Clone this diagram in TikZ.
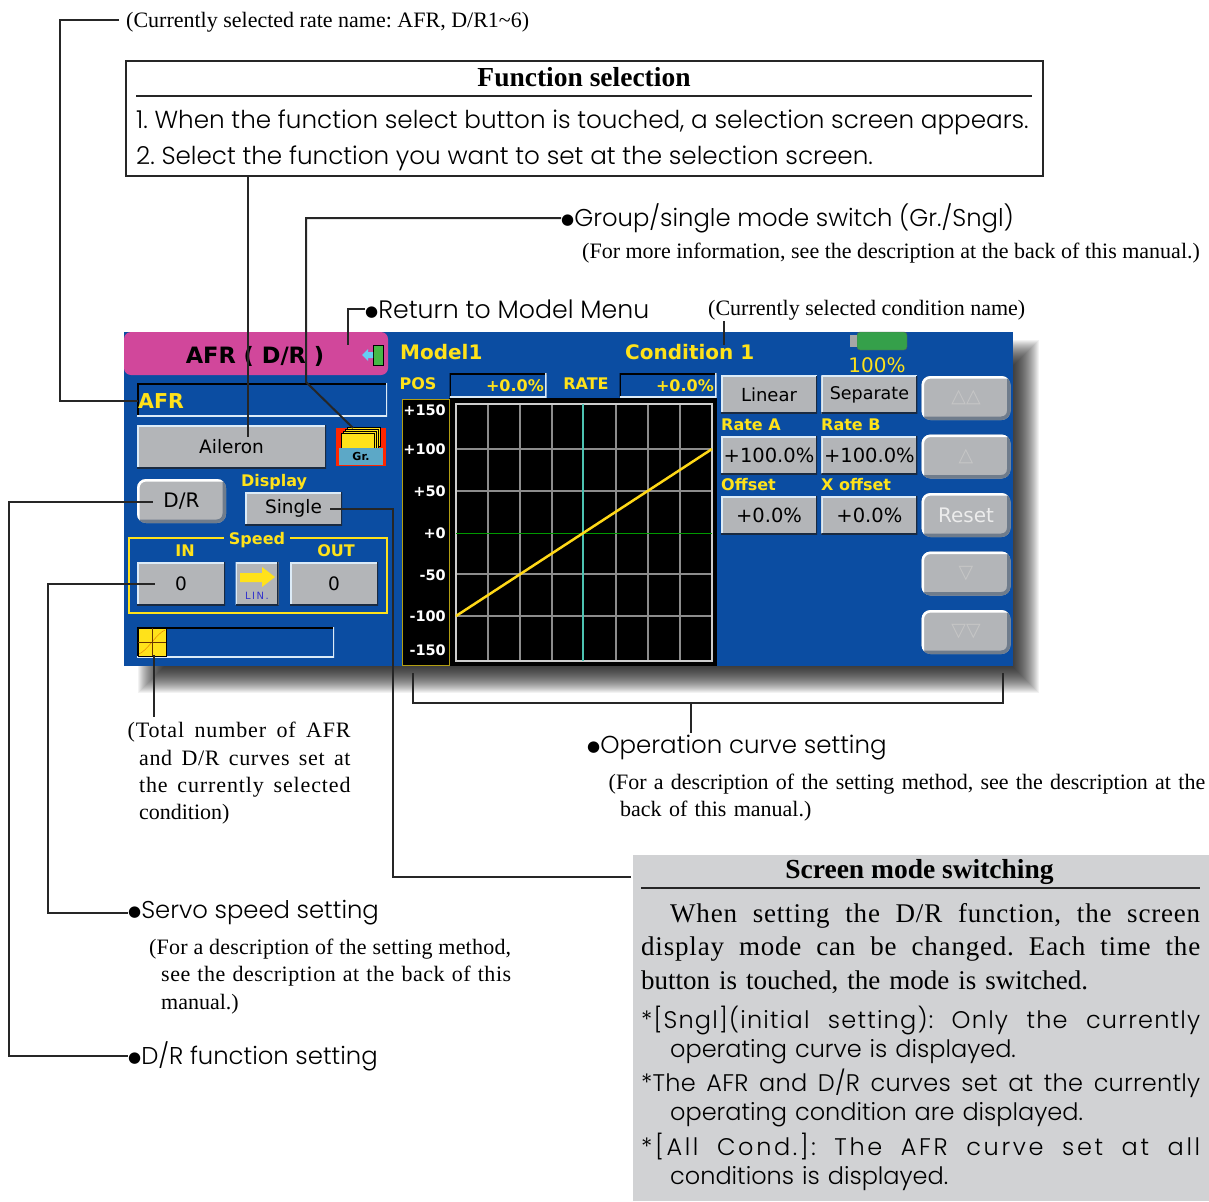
\documentclass[tikz,border=0pt]{standalone}
\usepackage{fontspec}
\setmainfont{Liberation Serif}
\newfontfamily\guidefont{Poppins Light}
\newfontfamily\screenfont{DejaVu Sans}
\usetikzlibrary{positioning}
\frenchspacing
\definecolor{scrblue}{HTML}{0B4DA2}
\definecolor{scryellow}{HTML}{FFE21A}
\definecolor{titlepink}{HTML}{D1479B}
\definecolor{btngray}{HTML}{B3B5B8}
\definecolor{btnlight}{HTML}{DCEBF7}
\definecolor{btndark}{HTML}{1A2A40}
\definecolor{boxgray}{HTML}{D1D2D4}
\definecolor{gridgray}{HTML}{8C8C8C}
\definecolor{sideedge}{HTML}{6F7C8C}
\definecolor{battgreen}{HTML}{35A04A}
\newcommand{\noteface}[1]{\fontsize{#1}{27.3}\selectfont}
\newcommand{\guideface}[1]{\guidefont\fontsize{#1}{36}\selectfont}
\newcommand{\scrface}[1]{\screenfont\fontsize{#1}{#1}\selectfont}
\newcommand{\scrbold}[1]{\screenfont\bfseries\fontsize{#1}{#1}\selectfont}
\newcommand{\fitl}[3][0]{\makebox[#2][s]{\addfontfeature{LetterSpace=#1}\spaceskip=0pt\xspaceskip=0pt #3}}
\newcommand{\dotmark}{\raisebox{2pt}{\screenfont\fontsize{15}{15}\selectfont ●}}
\tikzset{
	leader/.style={draw=black!85, line width=2pt}, % every connector
	note/.style={inner sep=0pt, anchor=west, align=left, font=\noteface{22}},
	guide/.style={inner sep=0pt, anchor=west, align=left, font=\guideface{24.3}},
	modeitem/.style={guide, font=\guidefont\fontsize{24}{29}\selectfont, text width=559pt},
	ylabel/.style={inner sep=0pt, text=scryellow, font=\scrbold{16}},
	btn/.style={fill=btngray, inner sep=0pt, text=black, font=\scrface{18.5},
		path picture={
			\draw[btnlight, line width=3pt] (path picture bounding box.south west) -- (path picture bounding box.north west) -- (path picture bounding box.north east);
			\draw[btndark, line width=3pt] (path picture bounding box.south west) -- (path picture bounding box.south east) -- (path picture bounding box.north east);
		}},
	valbtn/.style={btn, minimum width=96pt, minimum height=38pt},
	sidebtn/.style={fill=btngray, rounded corners=9pt, inner sep=0pt, text=gray!45,
		minimum width=89pt, minimum height=44pt, font=\scrbold{19},
		path picture={
			\draw[sideedge, line width=7pt] (path picture bounding box.south west) -- (path picture bounding box.south east) -- (path picture bounding box.north east);
			\draw[white, line width=5pt] (path picture bounding box.south west) -- (path picture bounding box.north west) -- (path picture bounding box.north east);
		}},
	sunken/.style={inner sep=0pt,
		path picture={
			\draw[black, line width=3pt] (path picture bounding box.south west) -- (path picture bounding box.north west) -- (path picture bounding box.north east);
			\draw[btnlight, line width=3pt] (path picture bounding box.south west) -- (path picture bounding box.south east) -- (path picture bounding box.north east);
		}},
	scalelab/.style={inner sep=0pt, anchor=east, text=white, font=\scrbold{14.5}},
}
\begin{document}
\begin{tikzpicture}[x=1pt,y=-1pt]
	\useasboundingbox (0,0) rectangle (1209,1201);
	% shadow of the screen
	\foreach \d in {0,1,...,26}
		\fill[black,opacity=.05] (164-\d,366-\d) rectangle (1013+\d,667+\d);
	\node[fill=scrblue, minimum width=889pt, minimum height=334pt, inner sep=0pt] (screen) at (568.5,499) {};
	\node[fill=titlepink, rounded corners=7pt, minimum width=264pt, minimum height=43pt, inner sep=0pt] (title) at (256,353.5) {};
	\node[inner sep=0pt, font=\scrbold{22.5}] (titletxt) at (255,356) {AFR ( D/R )};
	% door icon
	\node[fill=gray!55!green, draw=black, minimum width=10pt, minimum height=20pt, inner sep=0pt] (door) at (378,355) {};
	\fill[cyan!60!white] (362,355) -- (368,349) -- (368,352) -- (373,352) -- (373,358) -- (368,358) -- (368,361) -- cycle;
	% left column
	\node[sunken, minimum width=250pt, minimum height=33pt] (afrbox) at (262,399.5) {};
	\node[ylabel, anchor=west, font=\scrbold{20.5}] (afrtxt) at (138,401) {AFR};
	\node[btn, minimum width=189pt, minimum height=43pt] (aileron) at (231.5,446.5) {Aileron};
	\node[fill=red!70!orange, minimum width=50pt, minimum height=38pt, inner sep=0pt] (gricon) at (361,447) {};
	\foreach \d in {4,2,0}
		\fill[scryellow, draw=black] (343+\d,431-\d) rectangle (376+\d,450-\d);
	\node[fill=scryellow, draw=black, minimum width=33pt, minimum height=16pt, inner sep=0pt] (grfolder) at (358,441) {};
	\node[fill=cyan!55!gray, minimum width=44pt, minimum height=17pt, inner sep=0pt, font=\scrbold{11}] (grtab) at (361,456) {Gr.};
	\node[sidebtn, text=black, font=\scrface{20}] (dr) at (181.5,501) {D/R};
	\node[ylabel] (displaytxt) at (274,482) {Display};
	\node[btn, minimum width=97pt, minimum height=33pt] (single) at (293.5,508.5) {Single};
	\node[draw=scryellow, line width=2pt, minimum width=258pt, minimum height=75pt, inner sep=0pt] (speedframe) at (258,575.5) {};
	\node[ylabel, fill=scrblue, inner xsep=5pt, inner ysep=1pt] (speedtxt) at (257,540) {Speed};
	\node[ylabel] (intxt) at (185,551) {IN};
	\node[ylabel] (outtxt) at (336,551) {OUT};
	\node[btn, minimum width=88pt, minimum height=43pt] (inbtn) at (181,583.5) {0};
	\node[btn, minimum width=43pt, minimum height=43pt] (linbtn) at (257,583.5) {};
	\node[btn, minimum width=88pt, minimum height=43pt] (outbtn) at (334,583.5) {0};
	\fill[scryellow] (240,573) -- (262,573) -- (262,567) -- (275,577) -- (262,587) -- (262,582) -- (240,582) -- cycle;
	\node[inner sep=0pt, text=blue!60!gray, font=\scrface{10}\addfontfeature{LetterSpace=15}] (lintxt) at (257,596) {LIN.};
	\node[sunken, minimum width=197pt, minimum height=30pt] (countbox) at (235.5,642) {};
	\node[fill=scryellow, draw=black, minimum width=28pt, minimum height=28pt, inner sep=0pt] (curveicon) at (152,642) {};
	\draw[orange!90!black] (139,654) .. controls (148,650) and (156,634) .. (165,630);
	\draw[black!60!orange] (152,628) -- (152,656) (138,642) -- (166,642);
	% top row of the screen
	\node[ylabel, anchor=west, font=\scrbold{20}] (modeltxt) at (400,352) {Model1};
	\node[ylabel, anchor=west, font=\scrbold{20}] (condtxt) at (625,352) {Condition 1};
	\node[ylabel] (postxt) at (418,384) {POS};
	\node[sunken, minimum width=97pt, minimum height=24pt] (posbox) at (498,385) {};
	\node[ylabel, anchor=east] (posval) at (544,386) {+0.0\%};
	\node[ylabel] (ratetxt) at (586,384) {RATE};
	\node[sunken, minimum width=97pt, minimum height=24pt] (ratebox) at (668,385) {};
	\node[ylabel, anchor=east] (rateval) at (714,386) {+0.0\%};
	\node[fill=battgreen, draw=gray!70!black, rounded corners=3pt, minimum width=50pt, minimum height=18pt, inner sep=0pt] (battery) at (882,341) {};
	\node[fill=gray!70, minimum width=7pt, minimum height=12pt, inner sep=0pt] (knob) at (853.5,341) {};
	\node[ylabel, font=\scrface{20}] (batterytxt) at (877,365) {100\%};
	% scale and graph
	\node[fill=black, minimum width=268pt, minimum height=268pt, inner sep=0pt] (graph) at (583,532) {};
	\node[fill=black, draw=scryellow!70!black, line width=1pt, minimum width=47pt, minimum height=266pt, inner sep=0pt] (scalebox) at (425.5,532) {};
	\foreach \lab/\yy in {+150/410,+100/449,+50/491,+0/533,-50/575,-100/616,-150/650}
		\node[scalelab] at (446,\yy) {\lab};
	\foreach \xx in {488,520,552,616,648,680}
		\draw[gridgray, line width=1.2pt] (\xx,404) -- (\xx,661);
	\foreach \yy in {449,491,574,616}
		\draw[gridgray, line width=1.2pt] (456,\yy) -- (712,\yy);
	\draw[gray!40, line width=1.5pt] (456,404) rectangle (712,661);
	\draw[green!60!black, line width=1pt] (456,533) -- (712,533);
	\draw[cyan!50!green!70!white, line width=2pt] (583,404) -- (583,661);
	\draw[scryellow!90!orange, line width=2.5pt] (456,616) -- (712,449);
	% buttons beside the graph
	\node[valbtn, font=\scrface{18}] (linear) at (769,394.5) {Linear};
	\node[valbtn, right=4pt of linear, font=\scrface{17.5}] (separate) {Separate};
	\node[valbtn, font=\scrface{19.5}] (ratea) at (769,455) {+100.0\%};
	\node[valbtn, right=4pt of ratea, font=\scrface{19.5}] (rateb) {+100.0\%};
	\node[valbtn, font=\scrface{19.5}] (offset) at (769,515) {+0.0\%};
	\node[valbtn, right=4pt of offset, font=\scrface{19.5}] (xoffset) {+0.0\%};
	\node[ylabel, anchor=west] (rateatxt) at (721,425) {Rate A};
	\node[ylabel, anchor=west] (ratebtxt) at (821,425) {Rate B};
	\node[ylabel, anchor=west] (offsettxt) at (721,485) {Offset};
	\node[ylabel, anchor=west] (xoffsettxt) at (821,485) {X offset};
	\node[sidebtn] (upup) at (966,398) {△△};
	\node[sidebtn] (up) at (966,456.5) {△};
	\node[sidebtn, text=white!85!gray, font=\scrface{20}] (reset) at (966,515) {Reset};
	\node[sidebtn] (down) at (966,573.5) {▽};
	\node[sidebtn] (downdown) at (966,632) {▽▽};
	% notes round the screen
	\node[note] (ratenote) at (126,22) {(Currently selected rate name: AFR, D/R1\textasciitilde6)};
	\node[draw=black!85, line width=2pt, minimum width=917pt, minimum height=115pt, inner sep=0pt] (funcbox) at (584.5,118.5) {};
	\node[inner sep=0pt, font=\bfseries\noteface{27.5}] (functitle) at (584,77) {Function selection};
	\draw[black!85, line width=2pt] (136,96) -- (1032,96);
	\node[guide, font=\guideface{24.65}] (funcone) at (136,122) {1. When the function select button is touched, a selection screen appears.};
	\node[guide, font=\guideface{24.65}] (functwo) at (136,158) {2. Select the function you want to set at the selection screen.};
	\node[guide] (grouptxt) at (561,218) {\dotmark Group/single mode switch (Gr./Sngl)};
	\node[note] (groupnote) at (582,253) {(For more information, see the description at the back of this manual.)};
	\node[guide, font=\guideface{25.2}] (returntxt) at (365,309) {\dotmark Return to Model Menu};
	\node[note] (condnote) at (708,310) {(Currently selected condition name)};
	\node[note, text width=223pt] (totalnote) at (127.4,773.5) {\fitl[4]{223pt}{(Total number of AFR}\\\hspace*{11.5pt}\fitl[3]{211.5pt}{and D/R curves set at}\\\hspace*{11.5pt}\fitl[4]{211.5pt}{the currently selected}\\\hspace*{11.5pt}condition)};
	\node[guide, font=\guideface{24.5}] (optxt) at (587,748) {\dotmark Operation curve setting};
	\node[note, text width=597pt] (opnote) at (608.5,797.5) {\fitl{596.5pt}{(For a description of the setting method, see the description at the}\\\hspace*{11.5pt}back of this manual.)};
	\node[guide] (servotxt) at (128,913) {\dotmark Servo speed setting};
	\node[note, text width=362pt] (servonote) at (149,976.5) {\fitl[1]{362pt}{(For a description of the setting method,}\\\hspace*{12pt}\fitl[2.5]{350pt}{see the description at the back of this}\\\hspace*{12pt}manual.)};
	\node[guide] (drtxt) at (128,1056) {\dotmark D/R function setting};
	% screen mode box
	\node[fill=boxgray, minimum width=576pt, minimum height=346pt, inner sep=0pt] (modebox) at (921,1028) {};
	\node[inner sep=0pt, font=\bfseries\noteface{27.5}] (modetitle) at (919.5,872) {Screen mode switching};
	\draw[black!85, line width=2pt] (641,888) -- (1200,888);
	\node[note, font=\fontsize{27}{33.5}\selectfont, text width=559pt] (modetxt) at (641,948.5) {\hspace*{29pt}\fitl[3]{530pt}{When setting the D/R function, the screen}\\\fitl[3]{559pt}{display mode can be changed. Each time the}\\button is touched, the mode is switched.};
	\node[modeitem] (modeone) at (641,1034.5) {\fitl[5]{559pt}{*[Sngl](initial setting): Only the currently}\\\hspace*{29pt}operating curve is displayed.};
	\node[modeitem] (modetwo) at (641,1098) {\fitl[1]{559pt}{*The AFR and D/R curves set at the currently}\\\hspace*{29pt}operating condition are displayed.};
	\node[modeitem] (modethree) at (641,1162) {\fitl[11]{559pt}{*[All Cond.]: The AFR curve set at all}\\\hspace*{29pt}conditions is displayed.};
	% free ends and corners of the connectors
	\coordinate (rateend) at (119,20);
	\coordinate (ratecorner) at (60,401);
	\coordinate (ailerontip) at (248,437);
	\coordinate (groupcorner) at (306,218);
	\coordinate (groupbend) at (306,382);
	\coordinate (grouptip) at (353,428);
	\coordinate (returntip) at (348,345);
	\coordinate (condend) at (723.5,321);
	\coordinate (condtip) at (723.5,345);
	\coordinate (drcorner) at (9,1056);
	\coordinate (drtip) at (153,502);
	\coordinate (servocorner) at (48,913);
	\coordinate (servotip) at (155,584);
	\coordinate (singletip) at (330,509);
	\coordinate (singlebend) at (393,877);
	\coordinate (modeend) at (631,877);
	\coordinate (totaltip) at (154,655);
	\coordinate (totalend) at (154,717);
	\coordinate (opleft) at (412.5,673);
	\coordinate (opright) at (1003,673);
	\coordinate (opstem) at (690.5,703);
	\coordinate (opend) at (690.5,733);
	% connectors
	\draw[leader] (rateend) -| (ratecorner) -- (afrtxt.west);
	\draw[leader] (funcbox.south -| ailerontip) -- (ailerontip);
	\draw[leader] (grouptxt.west) -- (groupcorner) -- (groupbend) -- (grouptip);
	\draw[leader] (returntxt.west) -| (returntip);
	\draw[leader] (condend) -- (condtip);
	\draw[leader] (drtxt.west) -- (drcorner) |- (drtip);
	\draw[leader] (servotxt.west) -- (servocorner) |- (servotip);
	\draw[leader] (singletip) -| (singlebend) -- (modeend);
	\draw[leader] (totaltip) -- (totalend);
	\draw[leader] (opleft) |- (opstem) -| (opright);
	\draw[leader] (opstem) -- (opend);
\end{tikzpicture}
\end{document}
